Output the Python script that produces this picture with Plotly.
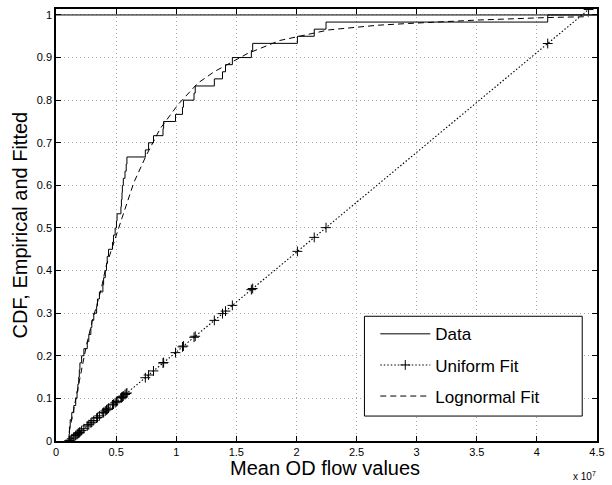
import numpy as np
import plotly.graph_objects as go

# ---- data (x in units of 1e7) ----
samples = [0.109, 0.112, 0.118, 0.131, 0.148, 0.164, 0.175, 0.182, 0.189, 0.194,
           0.199, 0.213, 0.232, 0.260, 0.273, 0.290, 0.298, 0.314, 0.338, 0.345,
           0.361, 0.390, 0.396, 0.410, 0.420, 0.426, 0.437, 0.470, 0.478, 0.492,
           0.503, 0.508, 0.540, 0.544, 0.549, 0.552, 0.560, 0.574, 0.584, 0.590,
           0.743, 0.770, 0.811, 0.890, 0.895, 0.994, 1.052, 1.060, 1.148, 1.158,
           1.317, 1.385, 1.410, 1.467, 1.625, 1.636, 2.008, 2.148, 2.246, 4.090]

uniform_x = samples + [4.430]
uniform_y = [0.0, 0.0007, 0.0021, 0.0052, 0.0091, 0.0129, 0.0155, 0.0171, 0.0187, 0.0199,
             0.0211, 0.0244, 0.0288, 0.0354, 0.0384, 0.0424, 0.0443, 0.0480, 0.0537, 0.0553,
             0.0591, 0.0659, 0.0673, 0.0705, 0.0729, 0.0743, 0.0769, 0.0846, 0.0865, 0.0898,
             0.0923, 0.0935, 0.1010, 0.1019, 0.1031, 0.1038, 0.1057, 0.1090, 0.1113, 0.1127,
             0.1486, 0.1549, 0.1645, 0.1830, 0.1842, 0.2074, 0.2210, 0.2229, 0.2435, 0.2458,
             0.2831, 0.2990, 0.3049, 0.3183, 0.3553, 0.3579, 0.4451, 0.4779, 0.5008, 0.9330,
             1.0127]

logn_x = [0.109, 0.13, 0.16, 0.2, 0.25, 0.3, 0.374, 0.416, 0.51, 0.551, 0.648, 0.75,
          0.866, 1.016, 1.18, 1.317, 1.59, 1.86, 2.27, 2.68, 2.93, 3.5, 4.09, 4.43]
logn_y = [0.02, 0.05, 0.10, 0.15, 0.22, 0.28, 0.354, 0.41, 0.487, 0.525, 0.607, 0.67,
          0.733, 0.79, 0.84, 0.867, 0.909, 0.94, 0.965, 0.976, 0.98, 0.988, 0.994, 0.996]

x_ticks = [0, 0.5, 1, 1.5, 2, 2.5, 3, 3.5, 4, 4.5]
x_tick_labels = ["0", "0.5", "1", "1.5", "2", "2.5", "3", "3.5", "4", "4.5"]
y_ticks = [0, 0.1, 0.2, 0.3, 0.4, 0.5, 0.6, 0.7, 0.8, 0.9, 1.0]
y_tick_labels = ["0", "0.1", "0.2", "0.3", "0.4", "0.5", "0.6", "0.7", "0.8", "0.9", "1"]

N = len(samples)
ecdf_x = [samples[0]] + samples + [4.5]
ecdf_y = [0.0] + list(np.arange(1, N + 1) / N) + [1.0]

FONT = "Liberation Sans, Arial, Helvetica, sans-serif"

fig = go.Figure()
fig.add_trace(go.Scatter(x=ecdf_x, y=ecdf_y, mode="lines", line_shape="hv",
                         line=dict(color="black", width=1), name="Data",
                         legendgroup="a"))
fig.add_trace(go.Scatter(x=uniform_x, y=uniform_y, mode="lines+markers",
                         line=dict(color="black", width=1.1, dash="1.5px,2px"),
                         marker=dict(symbol="cross-thin", size=7,
                                     line=dict(color="black", width=1)),
                         name="Uniform Fit", legendgroup="b"))
fig.add_trace(go.Scatter(x=logn_x, y=logn_y, mode="lines",
                         line=dict(color="black", width=1, dash="6px,4px"),
                         name="Lognormal Fit", legendgroup="c"))

# legend box
fig.add_shape(type="rect", xref="x", yref="y",
              x0=(369 - 56) / 122, x1=(590 - 56) / 122,
              y0=(441 - 416) / 427, y1=(441 - 316) / 427,
              line=dict(color="black", width=1), fillcolor="white", layer="above")
# line at y = 1
fig.add_shape(type="line", xref="paper", yref="y", x0=0, x1=1, y0=1, y1=1,
              line=dict(color="black", width=1))

axis_common = dict(showline=True, linecolor="black", linewidth=1.5, mirror="ticks",
                   ticks="inside", ticklen=5, tickcolor="black", tickwidth=1,
                   showgrid=True, gridcolor="#a8a8a8", griddash="1px,3px", gridwidth=1,
                   zeroline=False, tickfont=dict(family=FONT, size=11, color="black"))

fig.update_xaxes(range=[0, 4.5], tickvals=x_ticks, ticktext=x_tick_labels, **axis_common)
fig.update_yaxes(range=[0, 1.014], tickvals=y_ticks, ticktext=y_tick_labels, **axis_common)

fig.add_annotation(text="CDF, Empirical and Fitted", textangle=-90, showarrow=False,
                   xref="paper", yref="paper", x=(19 - 56) / 549, y=0.5,
                   xanchor="center", yanchor="middle",
                   font=dict(family=FONT, size=20, color="black"))
fig.add_annotation(text="Mean OD flow values", showarrow=False,
                   xref="paper", yref="paper", x=(328.5 - 56) / 549, y=(441 - 468) / 433,
                   xanchor="center", yanchor="middle",
                   font=dict(family=FONT, size=20, color="black"))
fig.add_annotation(text="x 10<sup>7</sup>", showarrow=False,
                   xref="paper", yref="paper", x=(606 - 56) / 549, y=(441 - 476) / 433,
                   xanchor="right", yanchor="middle",
                   font=dict(family=FONT, size=10, color="black"))

fig.update_layout(
    width=612, height=485,
    margin=dict(l=56, r=7, t=8, b=44),
    paper_bgcolor="white", plot_bgcolor="white",
    showlegend=True,
    legend=dict(x=(380 - 56) / 549, y=(441 - 316) / 433, xanchor="left", yanchor="top",
                bgcolor="rgba(0,0,0,0)", borderwidth=0, tracegroupgap=6,
                itemwidth=50,
                font=dict(family=FONT, size=17, color="black")),
)

fig.write_html("out.html")
